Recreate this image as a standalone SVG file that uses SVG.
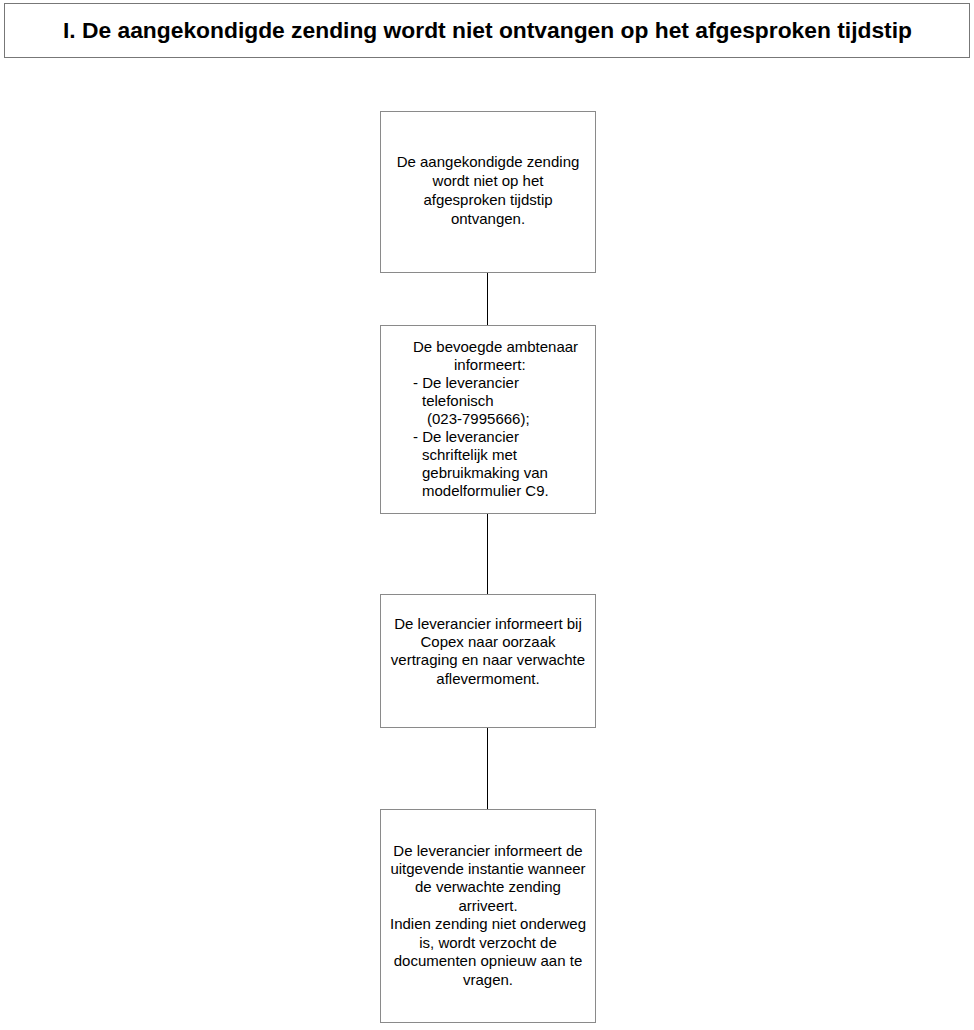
<svg xmlns="http://www.w3.org/2000/svg" width="974" height="1030" viewBox="0 0 974 1030">
<style>
.box{fill:#fff;stroke:#8a8a8a;stroke-width:1}
.t{font-family:"Liberation Sans",Arial,sans-serif;font-size:15px;fill:#000;text-anchor:middle}
.l{font-family:"Liberation Sans",Arial,sans-serif;font-size:15px;fill:#000}
.title{font-family:"Liberation Sans",Arial,sans-serif;font-size:22px;font-weight:bold;fill:#000;text-anchor:middle}
.c{stroke:#000;stroke-width:1;fill:none}
</style>
<rect width="974" height="1030" fill="#fff"/>
<g id="title">
<rect x="4.5" y="3.5" width="965" height="54" fill="#fff" stroke="#777"/>
<text class="title" x="487.5" y="38" textLength="849" lengthAdjust="spacingAndGlyphs">I. De aangekondigde zending wordt niet ontvangen op het afgesproken tijdstip</text>
</g>
<g id="connectors">
<line class="c" x1="487.5" y1="272" x2="487.5" y2="325"/>
<line class="c" x1="487.5" y1="514" x2="487.5" y2="594"/>
<line class="c" x1="487.5" y1="728" x2="487.5" y2="809"/>
</g>
<g id="node1">
<rect class="box" x="380.5" y="111.5" width="215" height="161"/>
<text class="t" x="488" y="167">De aangekondigde zending</text>
<text class="t" x="488" y="186">wordt niet op het</text>
<text class="t" x="488" y="205">afgesproken tijdstip</text>
<text class="t" x="488" y="224">ontvangen.</text>
</g>
<g id="node2">
<rect class="box" x="380.5" y="325.5" width="215" height="188"/>
<text class="l" x="413" y="352">De bevoegde ambtenaar</text>
<text class="l" x="454" y="370">informeert:</text>
<text class="l" x="413" y="388">- De leverancier</text>
<text class="l" x="422" y="406">telefonisch</text>
<text class="l" x="427" y="424">(023-7995666);</text>
<text class="l" x="413" y="442">- De leverancier</text>
<text class="l" x="422" y="460">schriftelijk met</text>
<text class="l" x="422" y="478">gebruikmaking van</text>
<text class="l" x="422" y="496">modelformulier C9.</text>
</g>
<g id="node3">
<rect class="box" x="380.5" y="594.5" width="215" height="133"/>
<text class="t" x="488" y="629">De leverancier informeert bij</text>
<text class="t" x="488" y="647">Copex naar oorzaak</text>
<text class="t" x="488" y="665">vertraging en naar verwachte</text>
<text class="t" x="488" y="684">aflevermoment.</text>
</g>
<g id="node4">
<rect class="box" x="380.5" y="809.5" width="215" height="213"/>
<text class="t" x="488" y="856">De leverancier informeert de</text>
<text class="t" x="488" y="874">uitgevende instantie wanneer</text>
<text class="t" x="488" y="892">de verwachte zending</text>
<text class="t" x="488" y="911">arriveert.</text>
<text class="t" x="488" y="929">Indien zending niet onderweg</text>
<text class="t" x="488" y="948">is, wordt verzocht de</text>
<text class="t" x="488" y="966">documenten opnieuw aan te</text>
<text class="t" x="488" y="985">vragen.</text>
</g>
</svg>
